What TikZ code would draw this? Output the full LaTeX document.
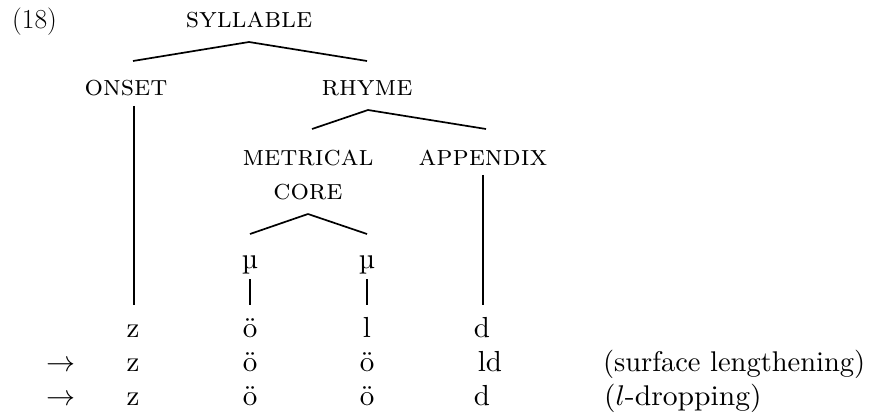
\RequirePackage{fix-cm}
\documentclass[tikz,border=0pt]{standalone}
\usepackage{graphicx}
\usetikzlibrary{calc}

% text set at the 10pt design size and enlarged
\newcommand{\bigtxt}[1]{\scalebox{2.9}{#1}}
\newcommand{\notetxt}[1]{\scalebox{2.85}{#1}}

\tikzset{
  lbl/.style={anchor=base, inner sep=0pt, outer sep=0pt},
  cat/.style={lbl, font=\fontsize{29}{35}\selectfont\scshape},
  seg/.style={lbl},
  note/.style={anchor=base west, inner sep=0pt, outer sep=0pt},
  branch/.style={line width=1.7pt},
  stem/.style={line width=2.2pt},
}

\begin{document}
\begin{tikzpicture}[x=1pt, y=-1pt]
  \useasboundingbox (0,0) rectangle (869,414);

  % example number
  \node[lbl, font=\fontsize{27.5}{32}\selectfont] (num) at (34.5,29) {(18)};

  % constituent labels
  \node[cat] (syl)   at (249,28)  {syllable};
  \node[cat] (onset) at (126,96)  {onset};
  \node[cat] (rhyme) at (367,96)  {rhyme};
  \node[cat] (met)   at (308,165) {metrical};
  \node[cat] (core)  at (308,200) {core};
  \node[cat] (app)   at (483,165) {appendix};

  % moras
  \node[seg] (mua) at (250,268) {\bigtxt{\char"00B5}};
  \node[seg] (mub) at (367,268) {\bigtxt{\char"00B5}};

  % underlying form
  \node[seg] (za) at (133,337) {\bigtxt{z}};
  \node[seg] (oa) at (250,337) {\bigtxt{ö}};
  \node[seg] (la) at (367,337) {\bigtxt{l}};
  \node[seg] (da) at (482,337) {\bigtxt{d}};

  % surface lengthening
  \node[seg] (arb) at (60.5,371) {\bigtxt{$\rightarrow$}};
  \node[seg] (zb)  at (133,371) {\bigtxt{z}};
  \node[seg] (ob)  at (250,371) {\bigtxt{ö}};
  \node[seg] (ob2) at (367,371) {\bigtxt{ö}};
  \node[seg] (ldb) at (490,371) {\bigtxt{ld}};
  \node[note] (nb) at (603,371) {\notetxt{(surface lengthening)}};

  % l-dropping
  \node[seg] (arc) at (60.5,405) {\bigtxt{$\rightarrow$}};
  \node[seg] (zc)  at (133,405) {\bigtxt{z}};
  \node[seg] (oc)  at (250,405) {\bigtxt{ö}};
  \node[seg] (oc2) at (367,405) {\bigtxt{ö}};
  \node[seg] (dc)  at (482,405) {\bigtxt{d}};
  \node[note] (nc) at (604,405) {\scalebox{2.96}[2.85]{($l$-dropping)}};

  % syllable branches
  \draw[branch] ([yshift=-14pt]syl.base) -- ([xshift=7pt,yshift=35pt]onset.base);
  \draw[branch] ([yshift=-14pt]syl.base) -- ([yshift=35pt]rhyme.base);

  % rhyme branches
  \draw[branch] ([xshift=1pt,yshift=-14pt]rhyme.base) -- ([xshift=4pt,yshift=36pt]met.base);
  \draw[branch] ([xshift=1pt,yshift=-14pt]rhyme.base) -- ([xshift=3pt,yshift=36pt]app.base);

  % metrical core branches
  \draw[branch] ([yshift=-14pt]core.base) -- ([yshift=34pt]mua.base);
  \draw[branch] ([yshift=-14pt]core.base) -- ([yshift=34pt]mub.base);

  % association lines
  \draw[stem] ([xshift=8pt,yshift=-10pt]onset.base) -- ([xshift=1pt,yshift=32pt]za.base);
  \draw[stem] ([yshift=-10pt]app.base) -- ([xshift=1pt,yshift=32pt]da.base);
  \draw[stem] ([yshift=-11pt]mua.base) -- ([yshift=32pt]oa.base);
  \draw[stem] ([yshift=-11pt]mub.base) -- ([yshift=32pt]la.base);
\end{tikzpicture}
\end{document}
